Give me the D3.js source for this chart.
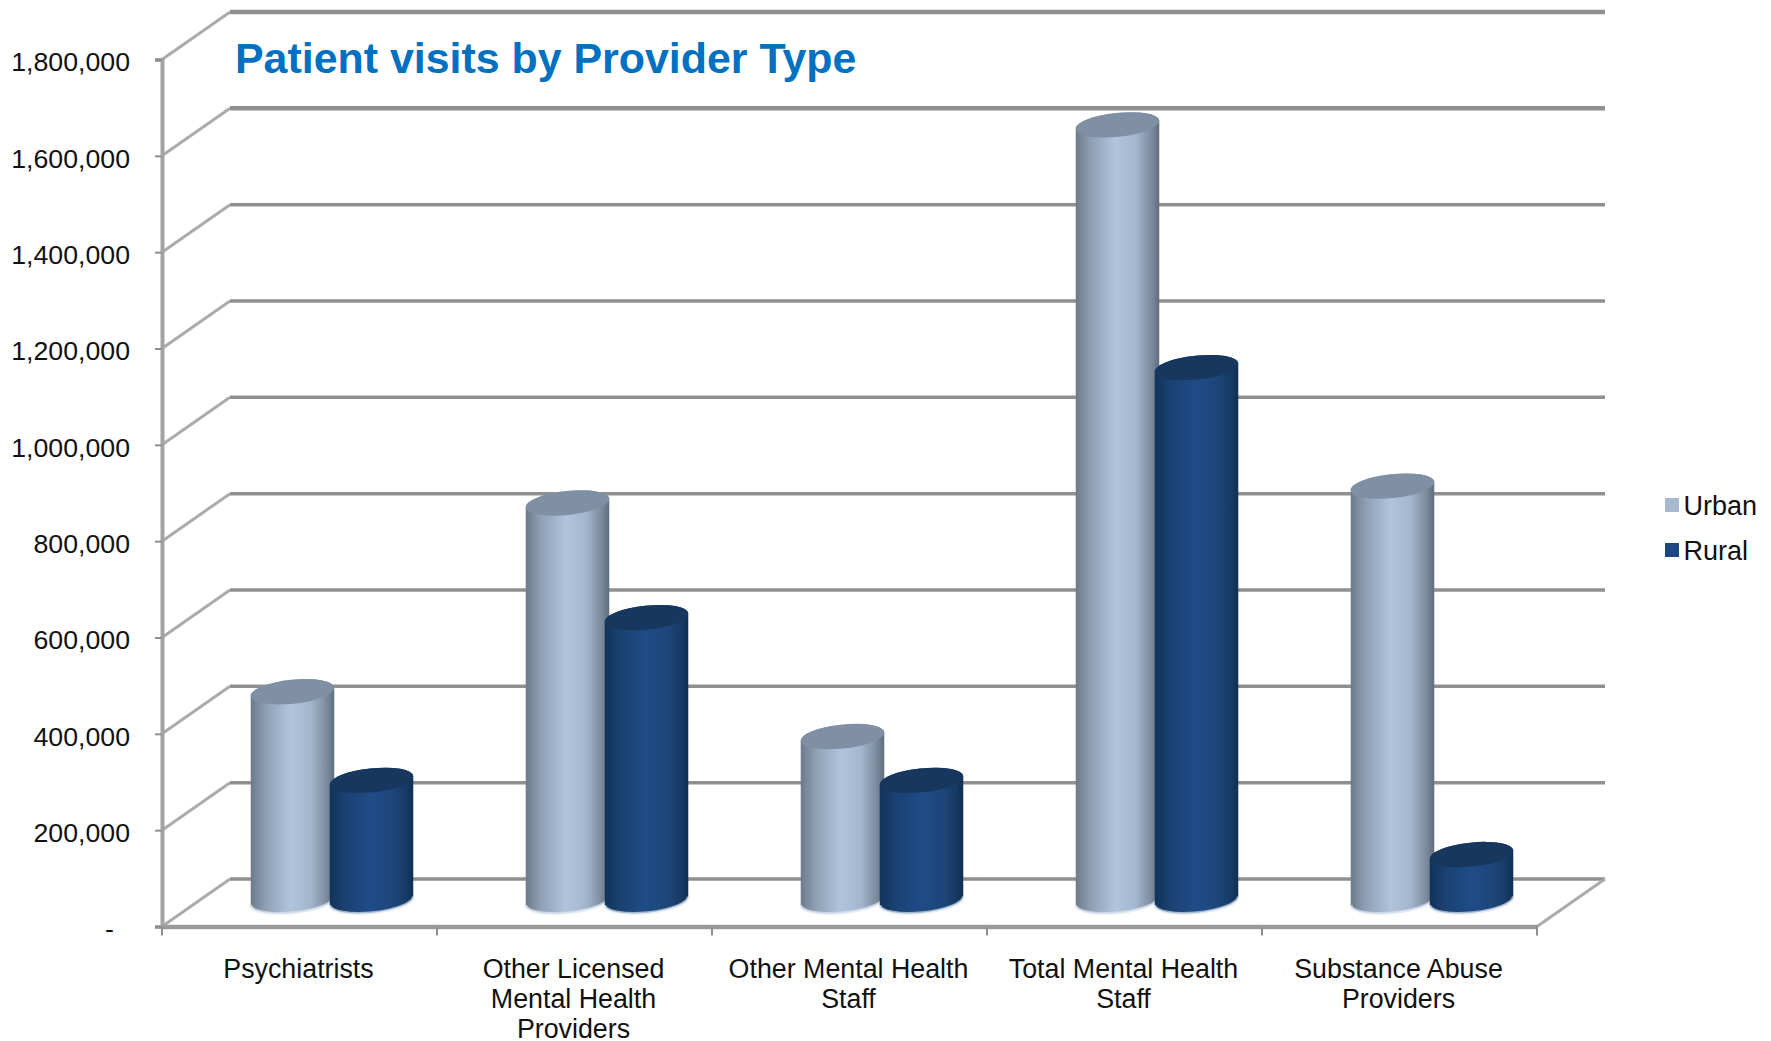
<!DOCTYPE html>
<html>
<head>
<meta charset="utf-8">
<title>Patient visits by Provider Type</title>
<script src="https://cdn.jsdelivr.net/npm/d3@7"></script>
<style>
  html, body { margin: 0; padding: 0; background: #fff; }
  text { font-family: "Liberation Sans", Arial, sans-serif; fill: #111; }
</style>
</head>
<body>
<svg id="chart" width="1771" height="1041"></svg>
<script>
/* values */
const categories = ["Psychiatrists", "Other Licensed Mental Health Providers", "Other Mental Health Staff", "Total Mental Health Staff", "Substance Abuse Providers"];
const categoryLines = [["Psychiatrists"], ["Other Licensed", "Mental Health", "Providers"], ["Other Mental Health", "Staff"], ["Total Mental Health", "Staff"], ["Substance Abuse", "Providers"]];
const seriesNames = ["Urban", "Rural"];
const urban = [438000, 830000, 345000, 1615000, 865000];
const rural = [254000, 592000, 254000, 1111000, 100000];
const yTicks = [0, 200000, 400000, 600000, 800000, 1000000, 1200000, 1400000, 1600000, 1800000];

const chartTitle = "Patient visits by Provider Type";

/* plot geometry */
const plotLeft = 162, plotRight = 1537, plotBottom = 926.5, plotTop = 59.5;
const depthX = 68, depthY = 47.5;   // how far the back wall is pushed
const rx = 42, ry = 12, tilt = 6 * Math.PI / 180;

const svg = d3.select("#chart");

const x = d3.scaleBand().domain(categories).range([plotLeft, plotRight]);
const y = d3.scaleLinear().domain([0, 1800000]).range([plotBottom, plotTop]);
const step = 79;
const xInner = d3.scaleBand().domain(seriesNames)
    .range([x.bandwidth() / 2 - step, x.bandwidth() / 2 + step]);

/*** gradients for the cylinders */
const defs = svg.append("defs");
const addGradient = (id, stops) => {
    defs.append("linearGradient").attr("id", id)
        .selectAll("stop").data(stops).join("stop")
        .attr("offset", d => d[0]).attr("stop-color", d => d[1]);
};
addGradient("grad-Urban", [[0, "#6c7a8a"], [0.18, "#8fa0b5"], [0.48, "#b0c4dd"], [0.72, "#a3b6cd"], [0.9, "#7d8da0"], [1, "#5f6d7d"]]);
addGradient("grad-Rural", [[0, "#12335a"], [0.2, "#1a4273"], [0.5, "#1f4c87"], [0.75, "#1d4679"], [0.92, "#163a64"], [1, "#102f52"]]);
const capColor = { Urban: "#7f90a4", Rural: "#17375f" };

/*** walls: gridlines run along the back wall and down the side wall */
const grid = svg.append("g");
grid.selectAll(".side").data(yTicks).join("path")
    .attr("class", "side")
    .attr("fill", "none")
    .attr("stroke", "#ababab")
    .attr("stroke-width", 3)
    .attr("d", d => `M${plotLeft},${y(d)}L${plotLeft + depthX},${y(d) - depthY}`);
grid.selectAll(".back").data(yTicks).join("path")
    .attr("class", "back")
    .attr("fill", "none")
    .attr("stroke", "#8f8f8f")
    .attr("stroke-width", d => d >= 1600000 ? 4.5 : 3.5)
    .attr("d", d => `M${plotLeft + depthX},${y(d) - depthY}L${plotRight + depthX},${y(d) - depthY}`);
grid.append("path")
    .attr("fill", "none").attr("stroke", "#ababab").attr("stroke-width", 3)
    .attr("d", `M${plotRight},${plotBottom}L${plotRight + depthX},${plotBottom - depthY}`);

/*** axes */
const yAxis = d3.axisLeft(y).tickValues(yTicks)
    .tickFormat(d => d === 0 ? "-" : d3.format(",")(d))
    .tickSize(7).tickPadding(25);
const gy = svg.append("g").attr("transform", `translate(${plotLeft},0)`).call(yAxis);
gy.select(".domain").attr("stroke", "#a3a3a3").attr("stroke-width", 4);
gy.selectAll(".tick line").attr("stroke", "#8f8f8f").attr("stroke-width", 2);
gy.selectAll("text").attr("font-size", 26.7).attr("fill", "#111").attr("dy", "0.42em");
gy.selectAll(".tick").filter(d => d === 0).select("text").attr("dx", -16);

const xAxis = d3.axisBottom(x).tickValues([]).tickSizeOuter(0);
const gx = svg.append("g").attr("transform", `translate(0,${plotBottom})`).call(xAxis);
gx.select(".domain").attr("stroke", "#9a9a9a").attr("stroke-width", 4.5);
gx.selectAll(".cat-tick").data(categories.concat("end")).join("line")
    .attr("class", "cat-tick")
    .attr("x1", (d, i) => i < categories.length ? x(d) : plotRight)
    .attr("x2", (d, i) => i < categories.length ? x(d) : plotRight)
    .attr("y1", 0).attr("y2", 9)
    .attr("stroke", "#8f8f8f").attr("stroke-width", 2);

gx.selectAll(".cat-label").data(categories).join("text")
    .attr("class", "cat-label")
    .attr("text-anchor", "middle")
    .attr("font-size", 26.8)
    .attr("y", 51.5)
    .each(function (d, i) {
        d3.select(this).selectAll("tspan").data(categoryLines[i]).join("tspan")
            .attr("x", x(d) + x.bandwidth() / 2 - 1)
            .attr("dy", (l, j) => j === 0 ? 0 : 30)
            .text(l => l);
    });

/*** cylinders, they stand half way into the floor */
const cosT = rx * Math.cos(tilt), sinT = rx * Math.sin(tilt);
const rows = categories.flatMap((c, i) => [
    { cat: c, name: "Urban", value: urban[i] },
    { cat: c, name: "Rural", value: rural[i] }
]);
const cx = d => x(d.cat) + xInner(d.name) + xInner.bandwidth() / 2 + depthX / 2 - 1.5;
const baseY = plotBottom - depthY / 2 - 2;
const topY = d => y(d.value) - depthY / 2;
const arc = (xEnd, yEnd) => `A${rx},${ry} -6 0 0 ${xEnd},${yEnd}`;

const bars = svg.append("g").selectAll("g").data(rows).join("g");
bars.append("path")
    .attr("fill", d => `url(#grad-${d.name})`)
    .attr("d", d => `M${cx(d) - cosT},${topY(d) + sinT}L${cx(d) - cosT},${baseY + sinT}`
        + arc(cx(d) + cosT, baseY - sinT)
        + `L${cx(d) + cosT},${topY(d) - sinT}`
        + arc(cx(d) - cosT, topY(d) + sinT) + "Z");
// pale reflection along the bottom rim
bars.append("path")
    .attr("fill", "none")
    .attr("stroke", "#dbe5f1")
    .attr("stroke-opacity", 0.7)
    .attr("stroke-width", 3)
    .attr("d", d => `M${cx(d) - cosT},${baseY + sinT}` + arc(cx(d) + cosT, baseY - sinT));
bars.append("ellipse")
    .attr("cx", cx).attr("cy", topY)
    .attr("rx", rx).attr("ry", ry)
    .attr("transform", d => `rotate(-6 ${cx(d)} ${topY(d)})`)
    .attr("fill", d => capColor[d.name]);

/*** title */
svg.append("text")
    .attr("x", 235).attr("y", 73)
    .attr("font-size", 42.9).attr("font-weight", "bold")
    .style("fill", "#0070c0")
    .text(chartTitle);

/*** legend */
const legend = svg.append("g").selectAll("g").data(seriesNames).join("g")
    .attr("transform", (d, i) => `translate(1665,${505 + i * 45})`);
legend.append("rect")
    .attr("x", 0).attr("y", -7).attr("width", 14).attr("height", 14)
    .attr("fill", d => d === "Urban" ? "#a6b9d0" : "#1c4782");
legend.append("text")
    .attr("x", 18.5).attr("dy", "0.36em")
    .attr("font-size", 27)
    .text(d => d);
</script>
</body>
</html>
